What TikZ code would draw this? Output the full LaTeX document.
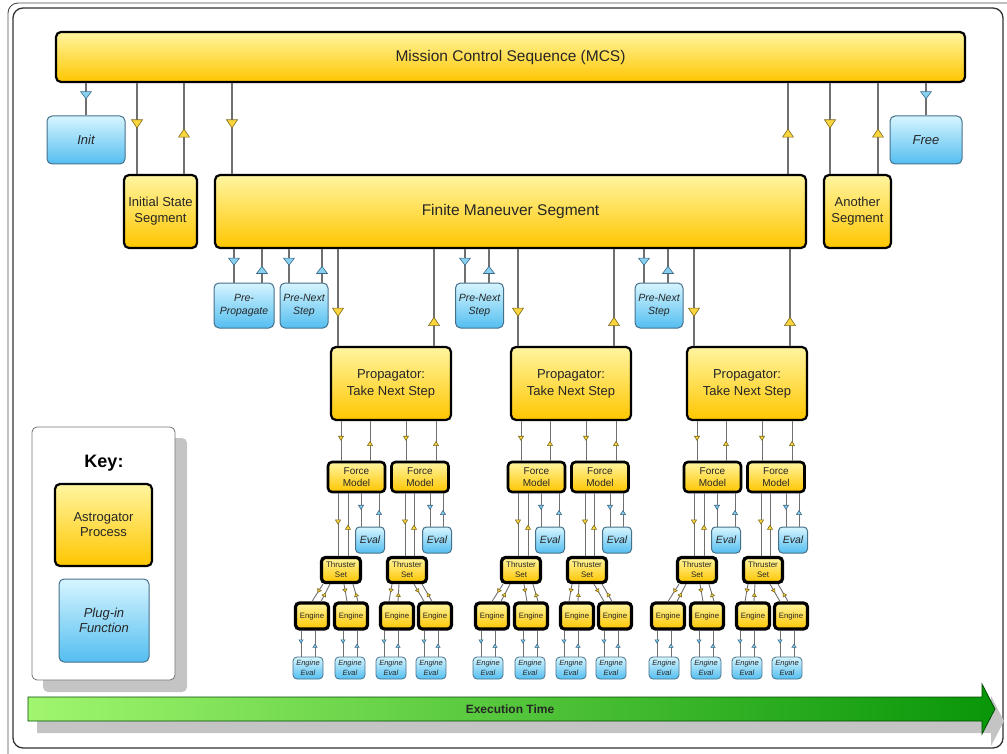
\documentclass[tikz,border=0pt]{standalone}
\usepackage{fontspec}
\setmainfont{Liberation Sans}
\usetikzlibrary{arrows.meta}
\usetikzlibrary{decorations.markings}
\definecolor{ytop}{RGB}{255, 245, 160}
\definecolor{ybot}{RGB}{255, 198, 0}
\definecolor{btop}{RGB}{214, 245, 255}
\definecolor{bbot}{RGB}{84, 190, 240}
\definecolor{bline}{RGB}{70, 112, 138}
\definecolor{lncol}{RGB}{112, 112, 112}
\definecolor{ymfill}{RGB}{250, 214, 60}
\definecolor{ymline}{RGB}{125, 105, 30}
\definecolor{bmfill}{RGB}{135, 208, 240}
\definecolor{bmline}{RGB}{60, 105, 135}
\definecolor{txt}{RGB}{38, 38, 38}
\definecolor{shd}{RGB}{196, 196, 196}
\definecolor{gleft}{RGB}{160, 246, 110}
\definecolor{gright}{RGB}{8, 150, 8}
\newcommand{\fsz}[2]{\fontsize{#1}{#2}\selectfont}

\begin{document}
\begin{tikzpicture}
		[x=1pt, y=-1pt,
		 every node/.style={inner sep=0pt, text=txt},
		 proc/.style={draw=black, line width=2.2pt, rounded corners=5pt, top color=ytop, bottom color=ybot, align=center, font=#1},
		 plug/.style={draw=bline, line width=1pt, rounded corners=5pt, top color=btop, bottom color=bbot, align=center, font=\itshape#1},
		 fmbox/.style={proc={\fsz{10}{12}}, line width=2.6pt, rounded corners=4pt, minimum width=57, minimum height=30},
		 tsbox/.style={proc={\fsz{8}{10}}, line width=3.2pt, rounded corners=4pt, minimum width=39, minimum height=25},
		 engbox/.style={proc={\fsz{7.8}{9}}, line width=3.2pt, rounded corners=4pt, minimum width=33, minimum height=26},
		 evbox/.style={plug={\fsz{10.5}{12}}, rounded corners=4pt, minimum width=29, minimum height=26},
		 eebox/.style={plug={\fsz{7.5}{10}}, line width=0.8pt, rounded corners=4pt, minimum width=30, minimum height=22},
		 ln/.style={draw=lncol, line width=1.3pt},
		 sln/.style={draw=lncol, line width=0.9pt},
		 ymk/.style n args={3}{postaction={decorate}, decoration={markings, mark=at position #1 with {\arrow{Triangle[width=#2, length=#3, fill=ymfill, color=ymline, line width=0.6pt]}}}},
		 bmk/.style n args={3}{postaction={decorate}, decoration={markings, mark=at position #1 with {\arrow{Triangle[width=#2, length=#3, fill=bmfill, color=bmline, line width=0.6pt]}}}}]
		\useasboundingbox (0,0) rectangle (1007,754);
		\clip (0,0) rectangle (1007,754);
		% frame
		\draw [line width=0.9pt, draw=black!70, rounded corners=10pt] (8,3) rectangle (1030,780);
		\draw [line width=1.3pt, draw=black!80, rounded corners=10pt] (13,8) rectangle (1003,748);

		% top level
		\node (mcs) [proc={\fsz{15.5}{18}}, minimum width=909, minimum height=50] at (510.5,57) {Mission Control Sequence (MCS)};
		\node (init) [plug={\fsz{13}{15}}, minimum width=78, minimum height=48] at (86,140) {Init};
		\node (iss) [proc={\fsz{13}{16}}, minimum width=73, minimum height=73] at (160.5,211.5) {Initial State\\Segment};
		\node (fms) [proc={\fsz{15.5}{18}}, minimum width=591, minimum height=73] at (510.5,211.5) {Finite Maneuver Segment};
		\node (another) [proc={\fsz{13}{16}}, minimum width=67, minimum height=73] at (857.5,211.5) {Another\\Segment};
		\node (free) [plug={\fsz{13}{15}}, minimum width=72, minimum height=48] at (926,140) {Free};
		\draw [ln, bmk={0.5}{12pt}{8pt}] (mcs.south -| init.north) to (init.north);
		\draw [ln, ymk={0.5}{12pt}{9pt}] (mcs.south -| 137,0) to (iss.north -| 137,0);
		\draw [ln, ymk={0.5}{12pt}{9pt}] (iss.north -| 184,0) to (mcs.south -| 184,0);
		\draw [ln, ymk={0.5}{12pt}{9pt}] (mcs.south -| 232,0) to (fms.north -| 232,0);
		\draw [ln, ymk={0.5}{12pt}{9pt}] (fms.north -| 788,0) to (mcs.south -| 788,0);
		\draw [ln, ymk={0.5}{12pt}{9pt}] (mcs.south -| 830,0) to (another.north -| 830,0);
		\draw [ln, ymk={0.5}{12pt}{9pt}] (another.north -| 878,0) to (mcs.south -| 878,0);
		\draw [ln, bmk={0.5}{12pt}{8pt}] (mcs.south -| free.north) to (free.north);

		% plug-ins under the finite maneuver
		\node (prepro) [plug={\fsz{10.5}{12.5}}, minimum width=60, minimum height=45] at (244,305.5) {Pre-\\Propagate};
		\draw [ln, bmk={0.5}{12pt}{8pt}] (fms.south -| 234,0) to (prepro.north -| 234,0);
		\draw [ln, bmk={0.5}{12pt}{8pt}] (prepro.north -| 262,0) to (fms.south -| 262,0);
		\foreach \k/\c/\xa/\xb in {1/304/289/322, 2/479.5/465/489, 3/659/644/668} {
			\node (pns\k) [plug={\fsz{10.5}{12.5}}, minimum width=48, minimum height=45] at (\c,305.5) {Pre-Next\\Step};
			\draw [ln, bmk={0.5}{12pt}{8pt}] (fms.south -| \xa,0) to (pns\k.north -| \xa,0);
			\draw [ln, bmk={0.5}{12pt}{8pt}] (pns\k.north -| \xb,0) to (fms.south -| \xb,0);
		}

		% propagator steps
		\foreach \k/\g in {1/328, 2/508, 3/684} {
			\node (prop\k) [proc={\fsz{13}{17}}, minimum width=120, minimum height=73] at (\g+63,383.5) {Propagator:\\Take Next Step};
			\node (fma\k) [fmbox] at (\g+28.5,477) {Force\\Model};
			\node (fmb\k) [fmbox] at (\g+92,477) {Force\\Model};
			\node (evala\k) [evbox] at (\g+42,540) {Eval};
			\node (evalb\k) [evbox] at (\g+109,540) {Eval};
			\node (tsa\k) [tsbox] at (\g+13,570) {Thruster\\Set};
			\node (tsb\k) [tsbox] at (\g+79,570) {Thruster\\Set};
			\draw [ln, ymk={0.7}{12pt}{9pt}] (fms.south -| \g+10,0) to (prop\k.north -| \g+10,0);
			\draw [ln, ymk={0.3}{12pt}{9pt}] (prop\k.north -| \g+106,0) to (fms.south -| \g+106,0);
			\draw [sln, ymk={0.5}{6pt}{5pt}] (prop\k.south -| \g+13,0) to (fma\k.north -| \g+13,0);
			\draw [sln, ymk={0.5}{6pt}{5pt}] (fma\k.north -| \g+42,0) to (prop\k.south -| \g+42,0);
			\draw [sln, ymk={0.5}{6pt}{5pt}] (prop\k.south -| \g+78,0) to (fmb\k.north -| \g+78,0);
			\draw [sln, ymk={0.5}{6pt}{5pt}] (fmb\k.north -| \g+108,0) to (prop\k.south -| \g+108,0);
			\draw [sln, ymk={0.5}{6pt}{5pt}] (fma\k.south -| \g+10,0) to (tsa\k.north -| \g+10,0);
			\draw [sln, ymk={0.5}{6pt}{5pt}] (tsa\k.north -| \g+20,0) to (fma\k.south -| \g+20,0);
			\draw [sln, ymk={0.5}{6pt}{5pt}] (fmb\k.south -| \g+77,0) to (tsb\k.north -| \g+77,0);
			\draw [sln, ymk={0.5}{6pt}{5pt}] (tsb\k.north -| \g+86,0) to (fmb\k.south -| \g+86,0);
			\draw [sln, bmk={0.5}{6pt}{5pt}] (fma\k.south -| \g+33,0) to (evala\k.north -| \g+33,0);
			\draw [sln, bmk={0.5}{6pt}{5pt}] (evala\k.north -| \g+51,0) to (fma\k.south -| \g+51,0);
			\draw [sln, bmk={0.5}{6pt}{5pt}] (fmb\k.south -| \g+102,0) to (evalb\k.north -| \g+102,0);
			\draw [sln, bmk={0.5}{6pt}{5pt}] (evalb\k.north -| \g+115,0) to (fmb\k.south -| \g+115,0);
			\foreach \j/\tn/\e/\v/\ta/\tb/\ba/\bb in {1/tsa/-16/-20/-5/2/-16/-7, 2/tsa/23/22/16/25/19/30, 3/tsb/69/63/64/71/61/70, 4/tsb/107/103/86/94/96/104} {
				\pgfmathsetmacro{\ex}{\g+\e}
				\pgfmathsetmacro{\vx}{\g+\v}
				\pgfmathsetmacro{\vl}{\g+\v-7}
				\pgfmathsetmacro{\vr}{\g+\v+7}
				\pgfmathsetmacro{\tl}{\g+\ta}
				\pgfmathsetmacro{\tr}{\g+\tb}
				\pgfmathsetmacro{\bl}{\g+\ba}
				\pgfmathsetmacro{\br}{\g+\bb}
				\node (eng\k\j) [engbox] at (\ex,616) {Engine};
				\node (ee\k\j) [eebox] at (\vx,668) {Engine\\Eval};
				\draw [sln, ymk={0.5}{5pt}{4pt}] (\tn\k.south -| \tl,0) to (eng\k\j.north -| \bl,0);
				\draw [sln, ymk={0.5}{5pt}{4pt}] (eng\k\j.north -| \br,0) to (\tn\k.south -| \tr,0);
				\draw [sln, bmk={0.5}{5pt}{4pt}] (eng\k\j.south -| \vl,0) to (ee\k\j.north -| \vl,0);
				\draw [sln, bmk={0.5}{5pt}{4pt}] (ee\k\j.north -| \vr,0) to (eng\k\j.south -| \vr,0);
			}
		}

		% key
		\fill [shd, rounded corners=5pt] (43,438) rectangle (187,692);
		\node (key) [draw=black!55, line width=0.8pt, fill=white, rounded corners=5pt, minimum width=143, minimum height=253] at (103.5,553.5) {};
		\node (keyttl) [font=\bfseries\fsz{18}{20}, text=black] at (104,463) {Key:};
		\node (keyproc) [proc={\fsz{13}{15}}, minimum width=97, minimum height=82] at (103.5,525) {Astrogator\\Process};
		\node (keyplug) [plug={\fsz{13}{15}}, minimum width=90, minimum height=83] at (104,620.5) {Plug-in\\Function};

		% execution time
		\fill [shd] (37,709) -- (991,709) -- (991,696) -- (1004,721) -- (991,746) -- (991,733) -- (37,733) -- cycle;
		\path [draw=green!30!black, line width=0.8pt, left color=gleft, right color=gright] (28,697) -- (982,697) -- (982,684) -- (995,709) -- (982,734) -- (982,721) -- (28,721) -- cycle;
		\node (exec) [font=\bfseries\fsz{12}{14}, text=black!85] at (510,709) {Execution Time};
\end{tikzpicture}
\end{document}
